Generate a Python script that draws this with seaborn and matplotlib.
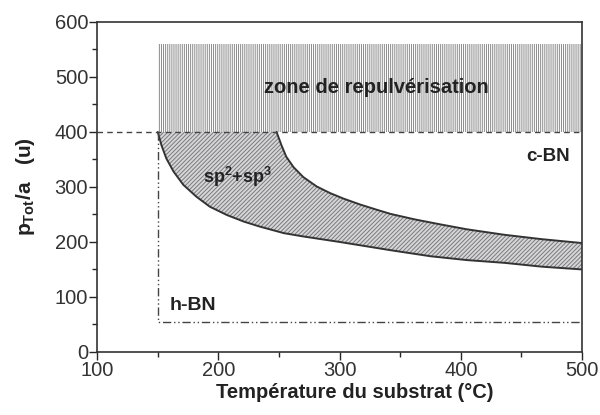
import numpy as np
import pandas as pd
import matplotlib
matplotlib.use('Agg')
import matplotlib.pyplot as plt
import seaborn as sns

# frontières (T en °C, p_Tot/a en u)
lower_T = [150, 153, 157, 163, 171, 182, 193, 207, 221, 234, 254, 270, 300, 342, 375, 405, 436, 467, 500]
lower_p = [400, 376, 352, 328, 304, 282, 264, 249, 237, 228, 216, 210, 200, 185, 174, 167, 162, 155, 150]
upper_T = [248, 252, 256, 262, 270, 281, 292, 303, 317, 330, 342, 362, 383, 405, 436, 467, 500]
upper_p = [400, 376, 355, 336, 318, 301, 289, 279, 268, 259, 251, 241, 232, 223, 213, 205, 198]

zone_T = [150, 500]
zone_bottom = 400
zone_top = 560
hbn_T = 150
hbn_p = 55

sns.set_style('ticks')
plt.rcParams['font.family'] = ['Liberation Sans', 'DejaVu Sans']
plt.rcParams['mathtext.fontset'] = 'custom'
plt.rcParams['mathtext.rm'] = 'Liberation Sans:bold'
plt.rcParams['mathtext.bf'] = 'Liberation Sans:bold'
plt.rcParams['hatch.linewidth'] = 0.7

fig = plt.figure(figsize=(6, 4.15), dpi=100)
ax = fig.add_axes([0.162, 0.152, 0.808, 0.795])

# zone de repulvérisation
ax.fill_between(zone_T, zone_bottom, zone_top, facecolor='white',
                edgecolor='#8a8a8a', hatch='||||||||', linewidth=0)

# bande sp2+sp3 : courbe basse, puis courbe haute en retour
band_T = lower_T + upper_T[::-1]
band_p = lower_p + upper_p[::-1]
ax.fill(band_T, band_p, facecolor='#d6d6da', edgecolor='#7a7a7a',
        hatch='////////', linewidth=0)

df_lo = pd.DataFrame({'T': lower_T, 'p': lower_p})
df_hi = pd.DataFrame({'T': upper_T, 'p': upper_p})
sns.lineplot(data=df_lo, x='T', y='p', color='#333333', lw=1.4, ax=ax)
sns.lineplot(data=df_hi, x='T', y='p', color='#333333', lw=1.4, ax=ax)

# limites en pointillés
ax.plot([100, 500], [zone_bottom, zone_bottom], color='#444444', lw=1, ls=(0, (4, 3)))
ax.plot([hbn_T, hbn_T, 500], [zone_bottom, hbn_p, hbn_p], color='#444444', lw=1,
        ls=(0, (6, 2, 1, 2, 1, 2)))

bold = dict(fontweight='bold', color='#222222', ha='center', va='center')
ax.text(330, 480, 'zone de repulvérisation', fontsize=14.5, **bold)
ax.text(472, 355, 'c-BN', fontsize=13.5, **bold)
ax.text(179, 85, 'h-BN', fontsize=14, **bold)
ax.text(216, 318, r'sp$^2$+sp$^3$', fontsize=13, **bold)

ax.set_xlim(100, 500)
ax.set_ylim(0, 600)
ax.set_xticks(range(100, 501, 100))
ax.set_yticks(range(0, 601, 100))
ax.set_xticks(range(150, 500, 100), minor=True)
ax.set_yticks(range(50, 600, 100), minor=True)
ax.tick_params(which='major', direction='out', length=6, width=1, labelsize=14.5,
               labelcolor='#333333', pad=0.5)
ax.tick_params(which='minor', direction='out', length=3.5, width=1)
for s in ax.spines.values():
    s.set_linewidth(1.2)
    s.set_color('#333333')

ax.set_xlabel('Température du substrat (°C)', fontsize=14.5, fontweight='bold',
              color='#222222')
ax.xaxis.set_label_coords(0.532, -0.095)
ax.set_ylabel(r'p$_{\mathrm{Tot}}$/a   (u)', fontsize=15, fontweight='bold',
              color='#222222', labelpad=13)

fig.savefig('out.png', dpi=100)
